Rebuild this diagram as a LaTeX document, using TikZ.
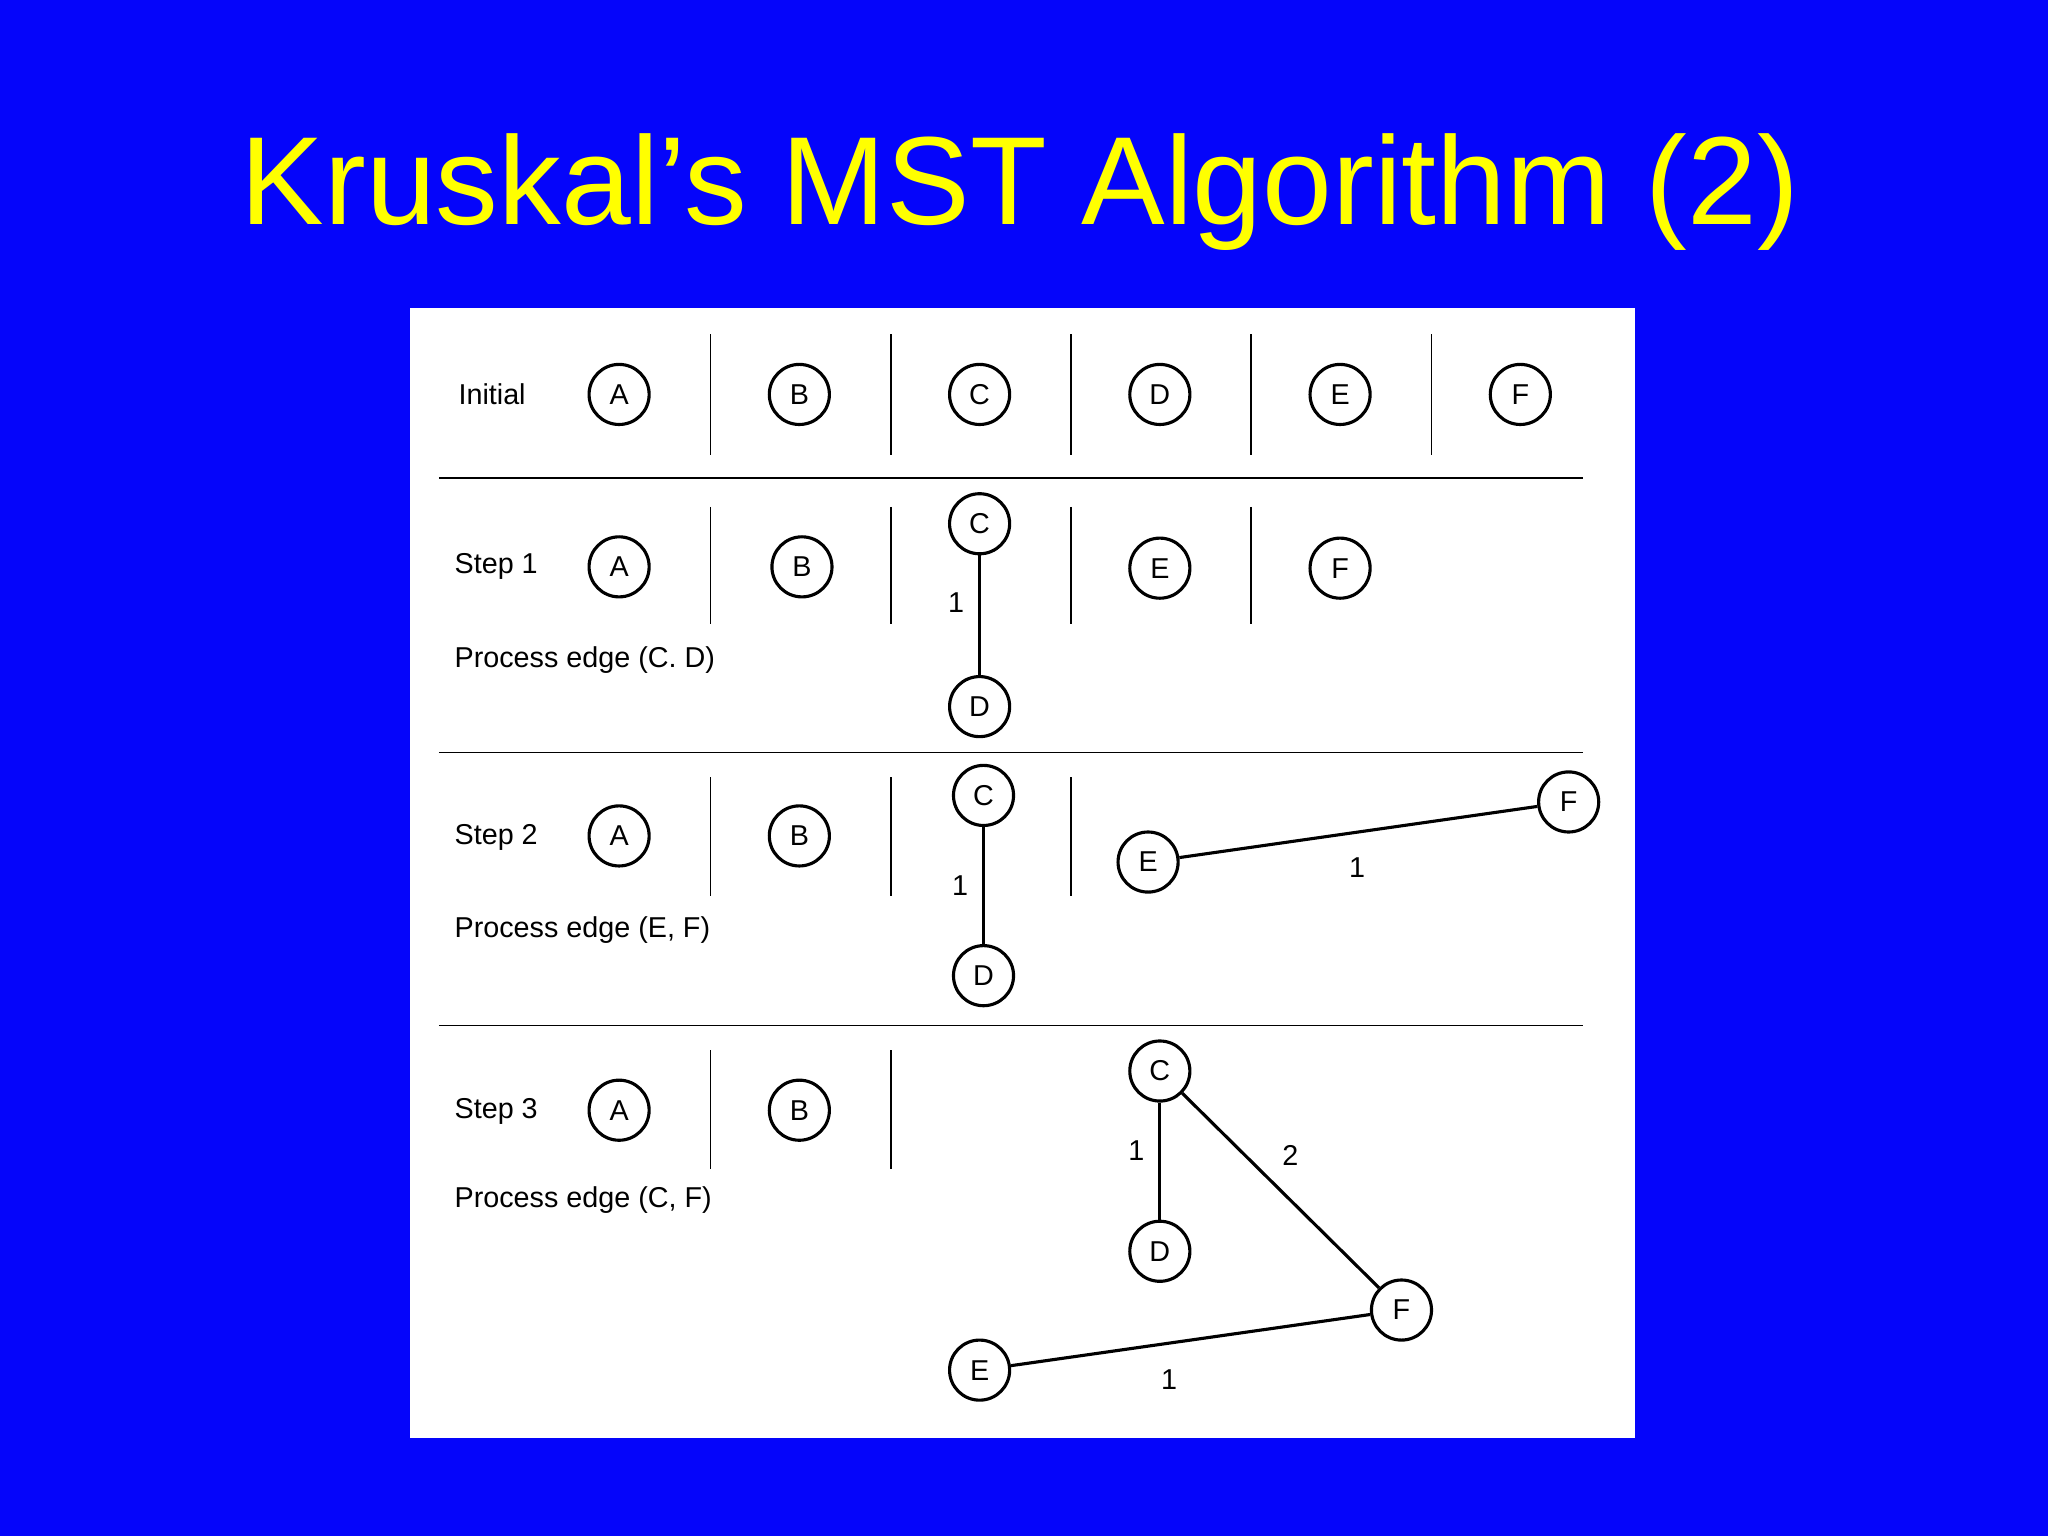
\documentclass[tikz,border=0pt]{standalone}
\usepackage{fontspec}
\setmainfont{Liberation Sans}
\begin{document}
\begin{tikzpicture}[x=0.5pt,y=-0.5pt,
  vx/.style={circle,draw,line width=1.2pt,minimum size=23pt,inner sep=0pt,font=\fontsize{11}{12}\selectfont},
  lbl/.style={anchor=west,font=\fontsize{11}{12}\selectfont},
  wt/.style={font=\fontsize{11}{12}\selectfont},
  sep/.style={line width=0.6pt},
  ed/.style={line width=1.2pt}]
\fill[fill={rgb,255:red,5;green,5;blue,250}] (0,0) rectangle (1568,1176);
\useasboundingbox (0,0) rectangle (1568,1176);
\node[text={rgb,255:red,255;green,255;blue,0},font=\fontsize{48}{56}\selectfont] (title) at (781,147) {Kruskal’s MST Algorithm (2)};
\fill[white] (314,236) rectangle (1252,1101);
% separators
\foreach \yy in {366,576,785} \draw[sep] (336,\yy) -- (1212,\yy);
% Initial
\node[lbl] (l0) at (344,302) {Initial};
\foreach \n/\xx in {A/474,B/612,C/750,D/888,E/1026,F/1164} \node[vx] (i\n) at (\xx,302) {\n};
\foreach \xx in {544,682,820,958,1096} \draw[sep] (\xx,256) -- (\xx,348);
% Step 1
\node[lbl] (l1) at (341,434) {Step 1};
\node[lbl] (p1) at (341,505) {Process edge (C. D)};
\node[vx] (aA) at (474,434) {A};
\node[vx] (aB) at (614,434) {B};
\node[vx] (aC) at (750,401) {C};
\node[vx] (aD) at (750,541) {D};
\node[vx] (aE) at (888,435) {E};
\node[vx] (aF) at (1026,435) {F};
\draw[ed] (aC) -- node[wt,left=2pt,yshift=5pt]{1} (aD);
\foreach \xx in {544,682,820,958} \draw[sep] (\xx,388) -- (\xx,478);
% Step 2
\node[lbl] (l2) at (341,641) {Step 2};
\node[lbl] (p2) at (341,712) {Process edge (E, F)};
\node[vx] (bA) at (474,640) {A};
\node[vx] (bB) at (612,640) {B};
\node[vx] (bC) at (753,609) {C};
\node[vx] (bD) at (753,747) {D};
\node[vx] (bE) at (879,660) {E};
\node[vx] (bF) at (1201,614) {F};
\draw[ed] (bC) -- node[wt,left=2pt]{1} (bD);
\draw[ed] (bE) -- (bF);
\node[wt] (w2) at (1039,664) {1};
\foreach \xx in {544,682,820} \draw[sep] (\xx,595) -- (\xx,686);
% Step 3
\node[lbl] (l3) at (341,851) {Step 3};
\node[lbl] (p3) at (341,919) {Process edge (C, F)};
\node[vx] (cA) at (474,850) {A};
\node[vx] (cB) at (612,850) {B};
\node[vx] (cC) at (888,820) {C};
\node[vx] (cD) at (888,958) {D};
\node[vx] (cF) at (1073,1003) {F};
\node[vx] (cE) at (750,1049) {E};
\draw[ed] (cC) -- node[wt,left=2pt,yshift=4pt]{1} (cD);
\draw[ed] (cC) -- (cF);
\draw[ed] (cE) -- (cF);
\node[wt] (w3) at (988,885) {2};
\node[wt] (w4) at (895,1056) {1};
\foreach \xx in {544,682} \draw[sep] (\xx,804) -- (\xx,895);
\end{tikzpicture}
\end{document}
